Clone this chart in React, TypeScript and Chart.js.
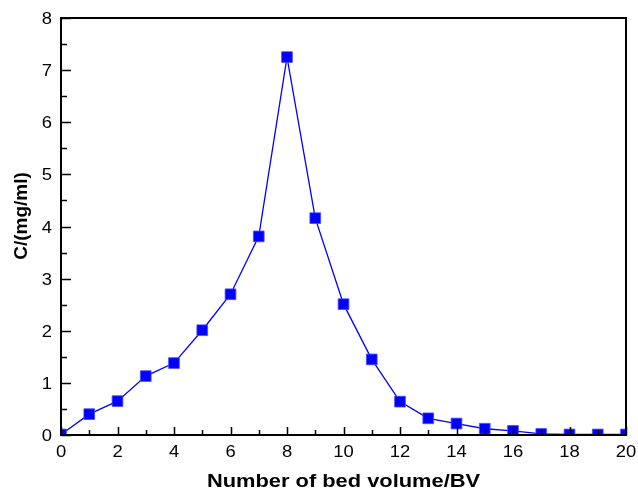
import React, { useEffect, useRef } from "react";
import { Chart, registerables } from "chart.js";

Chart.register(...registerables);

const bedVolumes = [0, 1, 2, 3, 4, 5, 6, 7, 8, 9, 10, 11, 12, 13, 14, 15, 16, 17, 18, 19, 20];
const concentration = [0.01, 0.4, 0.65, 1.13, 1.38, 2.01, 2.7, 3.81, 7.25, 4.16, 2.51, 1.45, 0.64, 0.32, 0.22, 0.12, 0.08, 0.02, 0.01, 0.01, 0.01];
const xTitle = "Number of bed volume/BV";
const yTitle = "C/(mg/ml)";

const FONT = "'Liberation Sans', Arial, sans-serif";
const STRETCH = 1.15;

function stretchedText(ctx: any, text: string, x: number, y: number, align: string, rot = 0) {
  ctx.save();
  ctx.translate(x, y);
  if (rot) ctx.rotate(rot);
  ctx.scale(rot ? 1 : STRETCH, rot ? 1 : 1);
  ctx.textAlign = align;
  ctx.fillText(text, 0, 0);
  ctx.restore();
}

const framePlugin = {
  id: "frame",
  afterDraw(chart: any) {
    const { ctx, chartArea } = chart;
    const { left, right, top, bottom } = chartArea;
    const xs = chart.scales.x;
    const ys = chart.scales.y;
    ctx.save();
    ctx.strokeStyle = "#000";
    ctx.lineWidth = 1.5;
    ctx.beginPath();
    for (let v = 0; v <= 20; v += 1) {
      const px = Math.round(xs.getPixelForValue(v)) + 0.5;
      const len = v % 2 === 0 ? 8 : 5;
      ctx.moveTo(px, bottom);
      ctx.lineTo(px, bottom - len);
    }
    for (let i = 0; i <= 16; i++) {
      const v = i / 2;
      const py = Math.round(ys.getPixelForValue(v)) + 0.5;
      const len = i % 2 === 0 ? 10 : 6;
      ctx.moveTo(left, py);
      ctx.lineTo(left + len, py);
    }
    ctx.stroke();
    ctx.lineWidth = 2;
    ctx.strokeRect(left, top, right - left, bottom - top);

    // tick labels from the scales' own ticks
    ctx.fillStyle = "#000";
    ctx.font = `16px ${FONT}`;
    ctx.textBaseline = "alphabetic";
    xs.ticks.forEach((t: any) => {
      stretchedText(ctx, String(t.value), xs.getPixelForValue(t.value), bottom + 22, "center");
    });
    ys.ticks.forEach((t: any) => {
      stretchedText(ctx, String(t.value), left - 9, ys.getPixelForValue(t.value) + 6, "right");
    });

    // axis titles
    ctx.font = `bold 19px ${FONT}`;
    stretchedText(ctx, xTitle, (left + right) / 2, 486.5, "center");
    ctx.save();
    ctx.translate(27, 216);
    ctx.rotate(-Math.PI / 2);
    ctx.scale(1, STRETCH * 0.85);
    ctx.textAlign = "center";
    ctx.fillText(yTitle, 0, 0);
    ctx.restore();
    ctx.restore();
  },
};

export default function App() {
  const ref = useRef<HTMLCanvasElement>(null);
  useEffect(() => {
    if (!ref.current) return;
    const chart = new Chart(ref.current, {
      type: "line",
      data: {
        datasets: [
          {
            data: bedVolumes.map((x, i) => ({ x, y: concentration[i] })),
            borderColor: "#0000ff",
            backgroundColor: "#0000ff",
            borderWidth: 1.3,
            pointStyle: "rect",
            pointRadius: 7.6,
            pointBorderWidth: 0.8,
            pointBorderColor: "#4d4dff",
            pointBackgroundColor: "#0000ff",
            tension: 0,
          },
        ],
      },
      options: {
        responsive: false,
        animation: false,
        layout: { padding: { left: 0, top: 18, right: 12, bottom: 0 } },
        plugins: { legend: { display: false }, tooltip: { enabled: false } },
        scales: {
          x: {
            type: "linear",
            min: 0,
            max: 20,
            grid: { display: false, drawTicks: false },
            border: { display: false },
            ticks: { stepSize: 2, display: false },
            afterFit: (s: any) => {
              s.height = 53;
            },
          },
          y: {
            type: "linear",
            min: 0,
            max: 8,
            grid: { display: false, drawTicks: false },
            border: { display: false },
            ticks: { stepSize: 1, display: false },
            afterFit: (s: any) => {
              s.width = 61;
            },
          },
        },
      },
      plugins: [framePlugin],
    });
    return () => chart.destroy();
  }, []);
  return (
    <div style={{ position: "fixed", left: 0, top: 0, width: 638, height: 488, background: "#fff" }}>
      <canvas ref={ref} width={638} height={488} />
    </div>
  );
}
